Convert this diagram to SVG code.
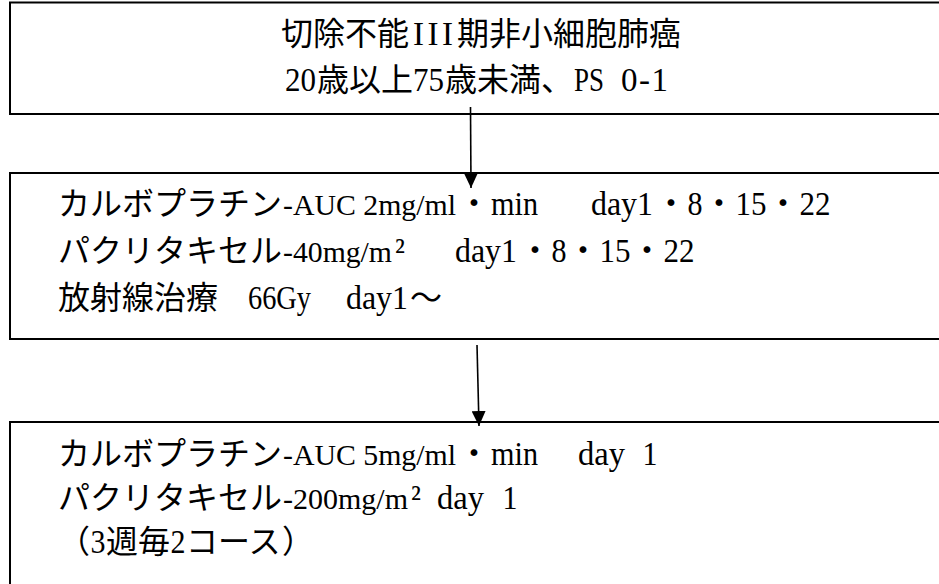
<svg xmlns="http://www.w3.org/2000/svg" width="939" height="584" viewBox="0 0 939 584">
  <style>
    .box { fill: #fff; stroke: #000; stroke-width: 2; }
    .t { font-family: "Liberation Serif", "Noto Sans CJK JP", serif; font-size: 32px; fill: #000; }
    .l { font-size: 33px; }
    .m { font-size: 30px; }
    .conn { stroke: #000; stroke-width: 1.6; fill: none; marker-end: url(#ah); }
  </style>
  <defs>
    <marker id="ah" markerUnits="userSpaceOnUse" markerWidth="15" markerHeight="14" refX="15" refY="7" orient="auto">
      <path d="M0,0 L15,7 L0,14 Z" fill="#000"/>
    </marker>
  </defs>
  <rect x="0" y="0" width="939" height="584" fill="#fff"/>

  <g id="node-top">
    <rect class="box" x="10" y="2.5" width="940" height="111.5"/>
    <text class="t" y="45">
      <tspan x="281">切除不能</tspan><tspan class="l" x="413" textLength="40" lengthAdjust="spacing">III</tspan><tspan x="457">期非小細胞肺癌</tspan>
    </text>
    <text class="t" y="91">
      <tspan class="l" x="285" textLength="31" lengthAdjust="spacingAndGlyphs">20</tspan><tspan x="317">歳以上</tspan><tspan class="l" x="413" textLength="31" lengthAdjust="spacingAndGlyphs">75</tspan><tspan x="445">歳未満、</tspan><tspan class="l" x="574" textLength="30" lengthAdjust="spacingAndGlyphs">PS</tspan><tspan class="l" x="621" textLength="47" lengthAdjust="spacing">0-1</tspan>
    </text>
  </g>

  <g id="node-middle">
    <rect class="box" x="10" y="173" width="940" height="166"/>
    <text class="t" y="215">
      <tspan x="58">カルボプラチン</tspan><tspan class="m" x="283" textLength="173" lengthAdjust="spacingAndGlyphs">-AUC 2mg/ml</tspan><tspan x="458">・</tspan><tspan class="l" x="491" textLength="47" lengthAdjust="spacingAndGlyphs">min</tspan><tspan class="l" x="591" textLength="62" lengthAdjust="spacingAndGlyphs">day1</tspan><tspan x="655">・</tspan><tspan class="l" x="687.5" textLength="15" lengthAdjust="spacingAndGlyphs">8</tspan><tspan x="703">・</tspan><tspan class="l" x="735.5" textLength="31" lengthAdjust="spacingAndGlyphs">15</tspan><tspan x="767">・</tspan><tspan class="l" x="799.5" textLength="31" lengthAdjust="spacingAndGlyphs">22</tspan>
    </text>
    <text class="t" y="262">
      <tspan x="58">パクリタキセル</tspan><tspan class="m" x="283" textLength="109" lengthAdjust="spacingAndGlyphs">-40mg/m</tspan><tspan class="l" x="395">²</tspan><tspan class="l" x="455" textLength="62" lengthAdjust="spacingAndGlyphs">day1</tspan><tspan x="519">・</tspan><tspan class="l" x="551.5" textLength="15" lengthAdjust="spacingAndGlyphs">8</tspan><tspan x="567">・</tspan><tspan class="l" x="599.5" textLength="31" lengthAdjust="spacingAndGlyphs">15</tspan><tspan x="631">・</tspan><tspan class="l" x="663.5" textLength="31" lengthAdjust="spacingAndGlyphs">22</tspan>
    </text>
    <text class="t" y="309">
      <tspan x="58">放射線治療</tspan><tspan class="l" x="248" textLength="63" lengthAdjust="spacingAndGlyphs">66Gy</tspan><tspan class="l" x="346" textLength="62" lengthAdjust="spacingAndGlyphs">day1</tspan><tspan x="410">～</tspan>
    </text>
  </g>

  <g id="node-bottom">
    <rect class="box" x="10" y="422" width="940" height="172"/>
    <text class="t" y="465">
      <tspan x="58">カルボプラチン</tspan><tspan class="m" x="283" textLength="173" lengthAdjust="spacingAndGlyphs">-AUC 5mg/ml</tspan><tspan x="458">・</tspan><tspan class="l" x="491" textLength="47" lengthAdjust="spacingAndGlyphs">min</tspan><tspan class="l" x="578" textLength="47" lengthAdjust="spacingAndGlyphs">day</tspan><tspan class="l" x="642.5" textLength="15" lengthAdjust="spacingAndGlyphs">1</tspan>
    </text>
    <text class="t" y="509">
      <tspan x="58">パクリタキセル</tspan><tspan class="m" x="283" textLength="125" lengthAdjust="spacingAndGlyphs">-200mg/m</tspan><tspan class="l" x="411">²</tspan><tspan class="l" x="437" textLength="47" lengthAdjust="spacingAndGlyphs">day</tspan><tspan class="l" x="502.5" textLength="15" lengthAdjust="spacingAndGlyphs">1</tspan>
    </text>
    <text class="t" y="553">
      <tspan x="58">（</tspan><tspan class="l" x="90.5" textLength="15" lengthAdjust="spacingAndGlyphs">3</tspan><tspan x="106">週毎</tspan><tspan class="l" x="170.5" textLength="15" lengthAdjust="spacingAndGlyphs">2</tspan><tspan x="186">コース</tspan><tspan x="282">）</tspan>
    </text>
  </g>

  <g id="connectors">
    <line class="conn" x1="470.5" y1="107" x2="471" y2="188"/>
    <line class="conn" x1="477" y1="345" x2="479" y2="426"/>
  </g>
</svg>
